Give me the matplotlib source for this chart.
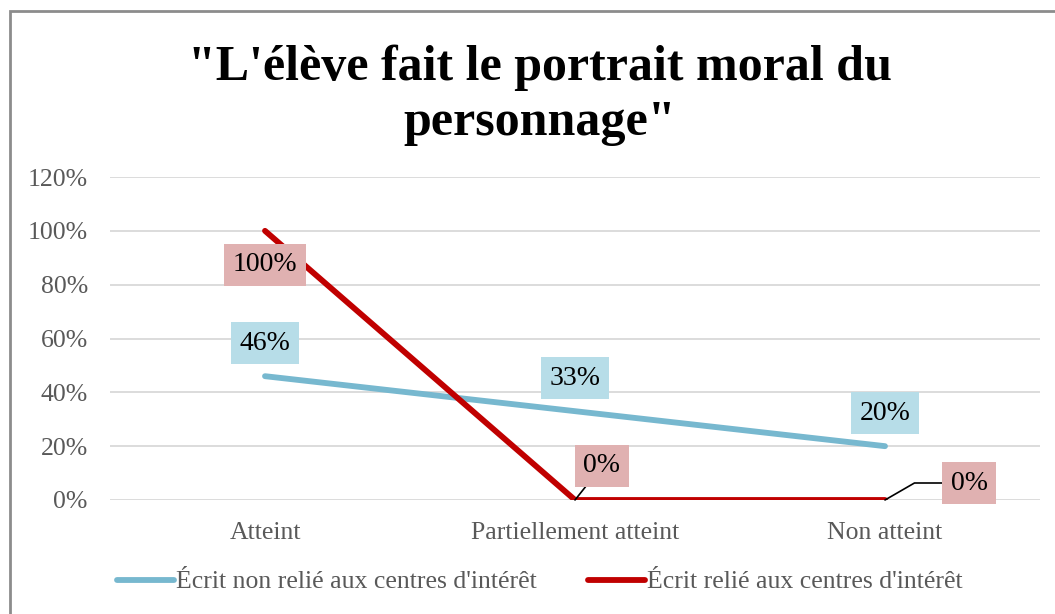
import matplotlib
matplotlib.use("Agg")
import matplotlib.pyplot as plt
from matplotlib.patches import Rectangle

# data
categories = ["Atteint", "Partiellement atteint", "Non atteint"]
non_relie = [0.46, 0.33, 0.20]
relie = [1.00, 0.00, 0.00]
series_names = ["Écrit non relié aux centres d'intérêt",
                "Écrit relié aux centres d'intérêt"]
yticks = [0, 0.2, 0.4, 0.6, 0.8, 1.0, 1.2]

BLUE = "#77b8cf"
RED = "#c00000"
BLUE_BOX = "#b7dde8"
RED_BOX = "#e0b1b1"
GREY = "#595959"
FONT = "Liberation Serif"

plt.rcParams["font.family"] = FONT

fig = plt.figure(figsize=(10.55, 6.14), dpi=100)
ax = fig.add_axes([110 / 1055, 1 - 500 / 614, 930 / 1055, 323 / 614])

x = list(range(len(categories)))
ax.plot(x, non_relie, color=BLUE, lw=4.2, solid_capstyle="round", zorder=3,
        label=series_names[0])
ax.plot(x, relie, color=RED, lw=4.2, solid_capstyle="round", zorder=3,
        label=series_names[1])

ax.set_xlim(-0.5, 2.5)
ax.set_ylim(0, 1.2)
ax.set_yticks(yticks)
ax.set_yticklabels([f"{int(round(v * 100))}%" for v in yticks])
ax.set_xticks(x)
ax.set_xticklabels(categories)
ax.tick_params(axis="both", length=0, labelsize=18.5, colors=GREY)
ax.tick_params(axis="x", pad=16)
ax.tick_params(axis="y", pad=16)
ax.grid(axis="y", color="#d9d9d9", lw=1.3)
ax.set_axisbelow(True)
for s in ax.spines.values():
    s.set_visible(False)

lab_kw = dict(textcoords="offset pixels", ha="center", va="center",
              fontsize=20, color="black", zorder=5)

# blue labels, above the points
for xi, v in zip(x, non_relie):
    ax.annotate(f"{int(round(v * 100))}%", (xi, v), xytext=(0, 33),
                bbox=dict(boxstyle="square,pad=0.3", fc=BLUE_BOX, ec="none"),
                **lab_kw)

# red labels
red_offsets = [(0, -34), (27, 34), (84, 17)]
for xi, v, off in zip(x, relie, red_offsets):
    arrow = None
    if v == 0:
        arrow = dict(arrowstyle="-", color="black", lw=1.2,
                     shrinkA=0, shrinkB=0,
                     connectionstyle="angle,angleA=0,angleB=30,rad=0" if xi == 2 else "arc3")
    ax.annotate(f"{int(round(v * 100))}%", (xi, v), xytext=off,
                bbox=dict(boxstyle="square,pad=0.3", fc=RED_BOX, ec="none"),
                arrowprops=arrow, **lab_kw)

fig.text(540 / 1055, 1 - 95 / 614,
         "\"L'élève fait le portrait moral du\npersonnage\"",
         ha="center", va="center", fontsize=36, fontweight="bold",
         linespacing=1.25)

leg = fig.legend(loc="center", bbox_to_anchor=(540 / 1055, 1 - 582 / 614),
                 ncol=2, frameon=False, fontsize=18.5, handlelength=2.2,
                 handletextpad=0.1, columnspacing=2.0)
for t in leg.get_texts():
    t.set_color(GREY)

# chart frame
fig.patches.append(Rectangle((10 / 1055, -0.05), 1.1, 1 - 11 / 614 + 0.05,
                             transform=fig.transFigure, fill=False,
                             ec="#8c8c8c", lw=2.0))

fig.savefig("out.png", dpi=100)
